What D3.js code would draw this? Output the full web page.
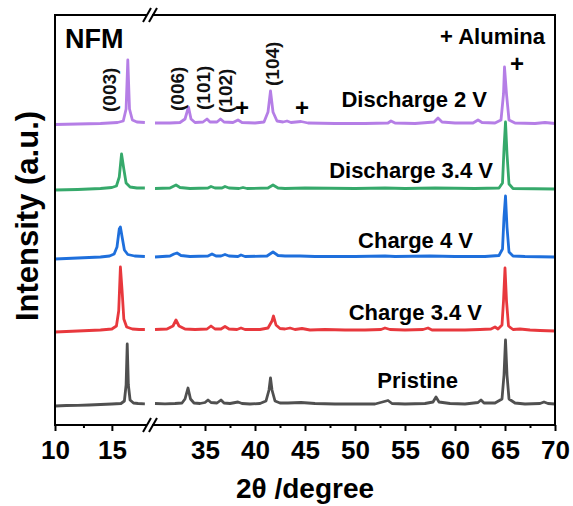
<!DOCTYPE html>
<html>
<head>
<meta charset="utf-8">
<script src="https://cdn.jsdelivr.net/npm/d3@7"></script>
<style>
  body { margin: 0; background: #fff; }
  svg { font-family: "Liberation Sans", Arial, sans-serif; }
</style>
</head>
<body>
<div id="chart"></div>
<script>
// XRD patterns, [2theta, intensity above own baseline]
const pristine = [
    [10,-1],[11,-0.5],[12,-0.3],[13,0],[14,0.5],[15,1],[15.8,1.5],[16.1,4],[16.25,20],[16.35,61],[16.45,20],[16.6,5],[16.9,2],[17.3,1.5],[17.9,1.2],
    [30,1.5],[31,1.2],[32,1.5],[32.7,2],[33.0,6],[33.3,17],[33.55,6],[33.9,2],[34.5,1.5],[35.0,2.5],[35.3,5],[35.6,2.5],[36.2,2],[36.6,5],[36.9,2],
    [37.5,1.5],[38.3,3],[38.7,1.5],[39.5,1],[40.5,1.5],[41.1,4],[41.4,15],[41.55,27],[41.7,15],[42.0,4],[42.5,2],[43.3,2],[44.6,2.5],[46,1.5],
    [48,1],[50,1],[52,1],[53.3,4.5],[53.7,1.5],[55,1],[57,1.5],[57.8,3],[58.1,8],[58.4,3],[59.5,1.5],[61,1],[62.3,2.5],[62.6,5],[62.9,2],
    [64,2],[64.7,6],[64.9,30],[65.05,65],[65.2,30],[65.4,6],[66,2],[67,1],[68.5,1.5],[68.9,3],[69.3,1.5],[70,1]
];
const charge34 = [
    [10,-1],[12,0],[14,1],[15.0,2],[15.4,5],[15.6,20],[15.75,64],[15.9,40],[16.05,12],[16.3,4],[16.8,2],[17.4,1.5],[17.9,1.5],
    [30,1.5],[31.2,2],[31.8,5],[32.1,11],[32.4,5],[33,2],[34,1.5],[35.2,2],[35.6,5],[36,2],[36.6,2],[37.0,4.5],[37.4,2],[38.2,1.5],[38.6,3],
    [39,1.5],[40.5,1.5],[41.3,3],[41.7,10],[41.85,15],[42.1,6],[42.5,2.5],[43,2],[43.5,3],[44,1.5],[44.7,2.5],[45.5,1],[47,1.5],[49,1],[51,1],
    [52.6,1.5],[53.0,3],[53.5,1.5],[55,1],[56.8,1.5],[57.3,3],[57.7,1],[59,1],[61,1],[62.5,1.5],[63.6,2],[64.0,4],[64.3,2],[64.7,6],[64.85,30],
    [65.0,63],[65.15,30],[65.35,5],[65.8,1.5],[66.5,2],[67.5,1],[68.5,0.5],[70,0]
];
const charge4 = [
    [10,-2],[12,-1],[14,0],[14.8,1],[15.2,3],[15.45,10],[15.65,28],[15.75,30],[15.9,20],[16.1,7],[16.4,2.5],[17,1],[17.9,0.5],
    [30,0],[31.5,1],[31.9,3],[32.2,4],[32.6,1.5],[33.5,0.5],[35.3,1],[35.7,3],[36.1,1],[36.6,1],[37.0,2.5],[37.4,1],[38.3,0.5],[38.6,2],[39,0.5],
    [41.2,1],[41.8,5],[42.3,1.5],[43,1],[44.5,1],[46,0.5],[50,0.5],[53,1],[54,0.5],[57.5,1],[60,0.5],[63,0.5],[64.4,1.5],[64.75,8],[64.9,40],
    [65.05,61],[65.2,30],[65.4,5],[65.8,1],[67,0.5],[70,0]
];
const discharge34 = [
    [10,-1],[12,-0.5],[14,0.5],[15,1.5],[15.4,3],[15.65,12],[15.85,35],[16.05,20],[16.25,6],[16.6,2],[17.2,1],[17.9,1],
    [30,0.5],[31.5,1],[31.8,2.5],[32.1,4],[32.5,1.5],[33.5,0.5],[35.3,1],[35.6,2.5],[36,1],[36.7,1],[37.0,2.5],[37.4,1],[38.4,0.5],[38.8,1.5],
    [39.2,0.5],[41.3,1],[41.8,4],[42.3,1],[43,0.5],[45,1],[50,0.5],[53,1],[55,0.5],[58,1],[62,0.5],[64.4,1],[64.75,6],[64.9,40],[65.05,67],
    [65.2,35],[65.4,5],[65.8,0.5],[70,0]
];
const discharge2 = [
    [10,-0.5],[12,0],[14,0.5],[15.5,1.5],[16.0,3],[16.25,15],[16.4,64],[16.55,15],[16.8,4],[17.2,2],[17.9,1.5],
    [30,1],[31.5,1],[32.5,1.5],[33.0,5],[33.35,17],[33.6,5],[34,1.5],[34.8,2],[35.2,5],[35.5,2],[36.2,2],[36.55,5],[36.9,2],[37.8,1.5],[38.3,4],
    [38.7,1.5],[40,1],[40.9,2],[41.3,12],[41.55,33],[41.8,12],[42.2,3],[42.8,2],[43.2,3],[43.6,1.5],[44.6,2.5],[45.3,1],[48,0.5],[51,0.5],
    [53.3,1],[53.6,3],[54,1],[56,0.5],[57.9,2],[58.3,6],[58.7,2],[60,1],[61.8,1],[62.3,4],[62.7,1.5],[64,1],[64.6,4],[64.85,30],[64.95,57],
    [65.15,30],[65.4,4],[66,1],[68,0.5],[69,1.5],[70,0.5]
];

const seriesNames = ["Pristine", "Charge 3.4 V", "Charge 4 V", "Discharge 3.4 V", "Discharge 2 V"];
const seriesData = [pristine, charge34, charge4, discharge34, discharge2];
const seriesOffset = [20, 94, 168, 236, 301];
const seriesColor = ["#505050", "#e8383d", "#1e6fdc", "#36a96b", "#b57ee6"];

const leftMajor = [10, 15];
const leftMinor = [12.5];
const rightMajor = [35, 40, 45, 50, 55, 60, 65, 70];
const rightMinor = [32.5, 37.5, 42.5, 47.5, 52.5, 57.5, 62.5, 67.5];

const millerLabels = ["(003)", "(006)", "(101)", "(102)", "(104)"];
const millerTheta = [14.8, 32.2, 34.8, 37.0, 41.7];
const millerLevel = [313, 314, 315, 312, 339];

const aluminaTheta = [38.7, 44.7, 66.2];
const aluminaLevel = [318, 318, 362];

const width = 573, height = 506;
const plot = {left: 55, right: 555, top: 15, bottom: 425};
const breakX = 150;

const svg = d3.select("#chart").append("svg")
    .attr("width", width)
    .attr("height", height);

// broken x axis: two linear pieces
const xLeft = d3.scaleLinear().domain([10, 18]).range([plot.left, 146]);
const xRight = d3.scaleLinear().domain([30, 70]).range([155, plot.right]);
const x = t => t < 25 ? xLeft(t) : xRight(t);
const y = d3.scaleLinear().domain([0, 410]).range([plot.bottom, plot.top]);

// curves
const line = d3.line()
    .x(d => x(d[0]))
    .y(d => y(d[1]));

seriesData.forEach((data, i) => {
    const pts = data.map(d => [d[0], d[1] + seriesOffset[i]]);
    [pts.filter(d => d[0] < 25), pts.filter(d => d[0] >= 25)].forEach(seg => {
        svg.append("path")
            .datum(seg)
            .attr("fill", "none")
            .attr("stroke", seriesColor[i])
            .attr("stroke-width", 2.8)
            .attr("stroke-linejoin", "round")
            .attr("d", line);
    });
});

// frame
svg.append("rect")
    .attr("x", plot.left)
    .attr("y", plot.top)
    .attr("width", plot.right - plot.left)
    .attr("height", plot.bottom - plot.top)
    .attr("fill", "none")
    .attr("stroke", "#000")
    .attr("stroke-width", 2);

// axes
function drawAxis(scale, major, minor) {
    svg.append("g")
        .attr("transform", `translate(0, ${plot.bottom})`)
        .call(d3.axisBottom(scale).tickValues(major).tickSize(6).tickSizeOuter(0).tickPadding(10))
        .call(g => g.select(".domain").remove())
        .call(g => g.selectAll(".tick line").attr("stroke-width", 2))
        .call(g => g.selectAll(".tick text")
            .attr("font-family", "'Liberation Sans', Arial, sans-serif")
            .attr("font-size", 26)
            .attr("font-weight", "bold")
            .attr("fill", "#000"));
    svg.append("g")
        .attr("transform", `translate(0, ${plot.bottom})`)
        .call(d3.axisBottom(scale).tickValues(minor).tickSize(3).tickSizeOuter(0).tickFormat(""))
        .call(g => g.select(".domain").remove())
        .call(g => g.selectAll(".tick line").attr("stroke-width", 2));
}
drawAxis(xLeft, leftMajor, leftMinor);
drawAxis(xRight, rightMajor, rightMinor);

// break marks
[plot.top, plot.bottom].forEach(yy => {
    svg.append("rect")
        .attr("x", breakX - 3)
        .attr("y", yy - 2)
        .attr("width", 5)
        .attr("height", 4)
        .attr("fill", "#fff");
    [-3, 3].forEach(dx => {
        svg.append("line")
            .attr("x1", breakX + dx - 4).attr("y1", yy + 7)
            .attr("x2", breakX + dx + 4).attr("y2", yy - 7)
            .attr("stroke", "#000")
            .attr("stroke-width", 2);
    });
});

// axis titles
svg.append("text")
    .attr("x", 305)
    .attr("y", 498)
    .attr("text-anchor", "middle")
    .attr("font-size", 28)
    .attr("font-weight", "bold")
    .text("2θ /degree");

svg.append("text")
    .attr("transform", "translate(38, 216) rotate(-90)")
    .attr("text-anchor", "middle")
    .attr("font-size", 31)
    .attr("font-weight", "bold")
    .text("Intensity (a.u.)");

// series labels
const labelEnd = [458, 482, 473, 493, 487];
const labelBase = [388, 320, 248, 178, 107];
seriesNames.forEach((name, i) => {
    svg.append("text")
        .attr("x", labelEnd[i])
        .attr("y", labelBase[i])
        .attr("text-anchor", "end")
        .attr("font-size", 22)
        .attr("font-weight", "bold")
        .text(name);
});

svg.append("text")
    .attr("x", 65)
    .attr("y", 48)
    .attr("font-size", 27)
    .attr("font-weight", "bold")
    .text("NFM");

svg.append("text")
    .attr("x", 545)
    .attr("y", 44)
    .attr("text-anchor", "end")
    .attr("font-size", 22)
    .attr("font-weight", "bold")
    .text("+ Alumina");

// miller indices
millerLabels.forEach((lab, i) => {
    svg.append("text")
        .attr("transform", `translate(${x(millerTheta[i])}, ${y(millerLevel[i])}) rotate(-90)`)
        .attr("dominant-baseline", "central")
        .attr("font-size", 19)
        .attr("font-weight", "bold")
        .attr("fill", "#111")
        .text(lab);
});

aluminaTheta.forEach((t, i) => {
    svg.append("text")
        .attr("x", x(t))
        .attr("y", y(aluminaLevel[i]))
        .attr("text-anchor", "middle")
        .attr("dominant-baseline", "central")
        .attr("font-size", 24)
        .attr("font-weight", "bold")
        .text("+");
});
</script>
</body>
</html>
